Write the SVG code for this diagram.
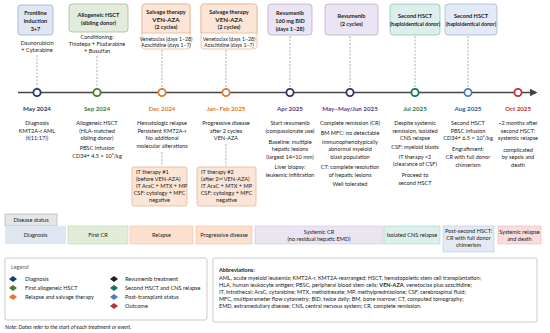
<svg xmlns="http://www.w3.org/2000/svg" width="550" height="333" viewBox="0 0 550 333">
<style>
text{font-family:Lato,"Liberation Sans",sans-serif;fill:#222}
.t{font-size:5.6px;text-anchor:middle}
.s{font-size:5.2px;text-anchor:middle}
.b{font-size:5.6px;font-weight:bold;text-anchor:middle}
.bb{font-size:6.2px;font-weight:bold;text-anchor:middle}
.d{font-size:6.2px;font-weight:bold;text-anchor:middle}
.l{font-size:5.6px}
.a{font-size:5.5px}
.dash{stroke:#9a9a9a;stroke-width:0.8;stroke-dasharray:2 1.5;fill:none}
.node{fill:#fff;stroke-width:1.8}
</style>
<defs>
<marker id="arr" viewBox="0 0 10 10" refX="8" refY="5" markerWidth="6" markerHeight="6" orient="auto"><path d="M0,0 L10,5 L0,10 z" fill="#444"/></marker>
<polygon id="dia" points="0,-3 4,0 0,3 -4,0"/>
</defs>
<rect width="550" height="333" fill="#fff"/>

<g id="connectors">
<line x1="18" y1="92.5" x2="536" y2="92.5" stroke="#444" stroke-width="1.3" marker-end="url(#arr)"/>
<line class="dash" x1="37" y1="55" x2="37" y2="88"/>
<line class="dash" x1="97" y1="56" x2="97" y2="88"/>
<line class="dash" x1="162" y1="50" x2="162" y2="88"/>
<line class="dash" x1="226" y1="50" x2="226" y2="88"/>
<line class="dash" x1="290" y1="36" x2="290" y2="88"/>
<line class="dash" x1="350" y1="36" x2="350" y2="88"/>
<line class="dash" x1="415" y1="36" x2="415" y2="88"/>
<line class="dash" x1="468" y1="36" x2="468" y2="88"/>
<line class="dash" x1="162" y1="152" x2="162" y2="166"/>
<line class="dash" x1="226" y1="144" x2="226" y2="166"/>
</g>

<g id="n-may2024">
<rect x="18" y="5" width="35" height="30" rx="3" fill="#dfe7f3" stroke="#8fa3c8" stroke-width="0.7"/>
<text class="b" x="35.5" y="15">Frontline</text>
<text class="b" x="35.5" y="23">induction</text>
<text class="b" x="35.5" y="30.5">3+7</text>
<text class="t" x="37" y="45">Daunorubicin</text>
<text class="t" x="37" y="51.5">+ Cytarabine</text>
<circle class="node" cx="37" cy="92.5" r="3.6" stroke="#1d3a6e"/>
<text class="d" x="37" y="110.5" style="fill:#1d3a6e">May 2024</text>
<text class="t" x="37" y="125">Diagnosis</text>
<text class="t" x="37" y="132.5">KMT2A-r AML</text>
<text class="t" x="37" y="140">(t(11;17))</text>
</g>

<g id="n-sep2024">
<rect x="69" y="4" width="59" height="28" rx="3" fill="#e3ecdc" stroke="#9ab58a" stroke-width="0.7"/>
<text class="b" x="98.5" y="16.5">Allogeneic HSCT</text>
<text class="b" x="98.5" y="24.5">(sibling donor)</text>
<text class="t" x="97" y="39">Conditioning:</text>
<text class="t" x="97" y="45.5">Thiotepa + Fludarabine</text>
<text class="t" x="97" y="52.5">+ Busulfan</text>
<circle class="node" cx="97" cy="92.5" r="3.6" stroke="#4b7a35"/>
<text class="d" x="97" y="110.5" style="fill:#4b7a35">Sep 2024</text>
<text class="t" x="97" y="125">Allogeneic HSCT</text>
<text class="t" x="97" y="132.5">(HLA-matched</text>
<text class="t" x="97" y="140">sibling donor)</text>
<text class="t" x="97" y="149.5">PBSC infusion</text>
<text class="t" x="97" y="157.5">CD34+ 4.5 × 10⁶/kg</text>
</g>

<g id="n-dec2024">
<rect x="142" y="4" width="48" height="45" rx="3" fill="#fff" stroke="#e8b08a" stroke-width="0.7"/>
<path d="M142,33 V7 a3,3 0 0 1 3,-3 H187 a3,3 0 0 1 3,3 V33 Z" fill="#fbe5d6" stroke="#e8b08a" stroke-width="0.7"/>
<text class="b" x="166" y="13.5">Salvage therapy</text>
<text class="bb" x="166" y="21.5">VEN-AZA</text>
<text class="b" x="166" y="29">(2 cycles)</text>
<text class="s" x="166" y="40.5">Venetoclax (days 1–28)</text>
<text class="s" x="166" y="46.5">Azacitidine (days 1–7)</text>
<circle class="node" cx="162" cy="92.5" r="3.6" stroke="#e07a30"/>
<text class="d" x="162" y="110.5" style="fill:#e07a30">Dec 2024</text>
<text class="t" x="162" y="125">Hematologic relapse</text>
<text class="t" x="162" y="132.5">Persistent KMT2A-r</text>
<text class="t" x="162" y="140">No additional</text>
<text class="t" x="162" y="148">molecular alterations</text>
<rect x="132" y="167" width="55" height="39" rx="2" fill="#fbe5d6" stroke="#e8b08a" stroke-width="0.7"/>
<text class="l" x="136" y="174">IT therapy #1</text>
<text class="l" x="136" y="181">(before VEN-AZA)</text>
<text class="l" x="136" y="188">IT AraC + MTX + MP</text>
<text class="t" x="159.5" y="195">CSF: cytology + MFC</text>
<text class="t" x="159.5" y="202">negative</text>
</g>

<g id="n-jan2025">
<rect x="201" y="4" width="56" height="45" rx="3" fill="#fff" stroke="#e8b08a" stroke-width="0.7"/>
<path d="M201,33 V7 a3,3 0 0 1 3,-3 H254 a3,3 0 0 1 3,3 V33 Z" fill="#fbe5d6" stroke="#e8b08a" stroke-width="0.7"/>
<text class="b" x="229" y="13.5">Salvage therapy</text>
<text class="bb" x="229" y="21.5">VEN-AZA</text>
<text class="b" x="229" y="29">(2 cycles)</text>
<text class="s" x="229" y="40.5">Venetoclax (days 1–28)</text>
<text class="s" x="229" y="46.5">Azacitidine (days 1–7)</text>
<circle class="node" cx="226" cy="92.5" r="3.6" stroke="#e07a30"/>
<text class="d" x="226" y="110.5" style="fill:#e07a30">Jan–Feb 2025</text>
<text class="t" x="226" y="125">Progressive disease</text>
<text class="t" x="226" y="132.5">after 2 cycles</text>
<text class="t" x="226" y="140">VEN-AZA</text>
<rect x="197" y="167" width="59" height="39" rx="2" fill="#fbe5d6" stroke="#e8b08a" stroke-width="0.7"/>
<text class="l" x="201" y="174">IT therapy #2</text>
<text class="l" x="201" y="181">(after 2<tspan dy="-1.5" font-size="3.6">nd</tspan><tspan dy="1.5"> VEN-AZA)</tspan></text>
<text class="l" x="201" y="188">IT AraC + MTX + MP</text>
<text class="t" x="226.5" y="195">CSF: cytology + MFC</text>
<text class="t" x="226.5" y="202">negative</text>
</g>

<g id="n-apr2025">
<rect x="268" y="4" width="44" height="31" rx="3" fill="#ebe5f3" stroke="#b3a3cc" stroke-width="0.7"/>
<text class="b" x="290" y="15">Revumenib</text>
<text class="b" x="290" y="23">160 mg BID</text>
<text class="b" x="290" y="30.5">(days 1–28)</text>
<circle class="node" cx="290" cy="92.5" r="3.6" stroke="#3c2d5c"/>
<text class="d" x="290" y="110.5" style="fill:#5a3a8a">Apr 2025</text>
<text class="t" x="290" y="125">Start revumenib</text>
<text class="t" x="290" y="132.5">(compassionate use)</text>
<text class="t" x="290" y="143.5">Baseline: multiple</text>
<text class="t" x="290" y="151">hepatic lesions</text>
<text class="t" x="290" y="158.5">(largest 14×10 mm)</text>
<text class="t" x="290" y="169">Liver biopsy:</text>
<text class="t" x="290" y="176.5">leukemic infiltration</text>
</g>

<g id="n-may2025">
<rect x="325" y="4" width="53" height="31" rx="3" fill="#ebe5f3" stroke="#b3a3cc" stroke-width="0.7"/>
<text class="b" x="351.5" y="18">Revumenib</text>
<text class="b" x="351.5" y="26">(2 cycles)</text>
<circle class="node" cx="350" cy="92.5" r="3.6" stroke="#3c2d5c"/>
<text class="d" x="350" y="110.5" style="fill:#5a3a8a">May–May/Jun 2025</text>
<text class="t" x="350" y="125">Complete remission (CR)</text>
<text class="t" x="350" y="134.5">BM MFC: no detectable</text>
<text class="t" x="350" y="143.5">immunophenotypically</text>
<text class="t" x="350" y="151">abnormal myeloid</text>
<text class="t" x="350" y="158.5">blast population</text>
<text class="t" x="350" y="169">CT: complete resolution</text>
<text class="t" x="350" y="176.5">of hepatic lesions</text>
<text class="t" x="350" y="186">Well tolerated</text>
</g>

<g id="n-jul2025">
<rect x="390" y="4" width="50" height="31" rx="3" fill="#dcefec" stroke="#8bbdb5" stroke-width="0.7"/>
<text class="b" x="415" y="18">Second HSCT</text>
<text class="b" x="415" y="26" style="font-size:5.2px">(haploidentical donor)</text>
<circle class="node" cx="415" cy="92.5" r="3.6" stroke="#16706a"/>
<text class="d" x="415" y="110.5" style="fill:#2a7a5a">Jul 2025</text>
<text class="t" x="415" y="125">Despite systemic</text>
<text class="t" x="415" y="132.5">remission, isolated</text>
<text class="t" x="415" y="140">CNS relapse</text>
<text class="t" x="415" y="148.5">CSF: myeloid blasts</text>
<text class="t" x="415" y="158.5">IT therapy ×2</text>
<text class="t" x="415" y="166">(clearance of CSF)</text>
<text class="t" x="415" y="176.5">Proceed to</text>
<text class="t" x="415" y="184.5">second HSCT</text>
</g>

<g id="n-aug2025">
<rect x="445" y="4" width="52" height="31" rx="3" fill="#e3eaf5" stroke="#9ab0d0" stroke-width="0.7"/>
<text class="b" x="471" y="18">Second HSCT</text>
<text class="b" x="471" y="26" style="font-size:5.2px">(haploidentical donor)</text>
<circle class="node" cx="468" cy="92.5" r="3.6" stroke="#4f7fbf"/>
<text class="d" x="468" y="110.5" style="fill:#2f5a9a">Aug 2025</text>
<text class="t" x="468" y="125">Second HSCT</text>
<text class="t" x="468" y="132.5">PBSC infusion</text>
<text class="t" x="468" y="140">CD34+ 6.5 × 10⁶/kg</text>
<text class="t" x="468" y="151">Engraftment:</text>
<text class="t" x="468" y="159">CR with full donor</text>
<text class="t" x="468" y="166.5">chimerism</text>
</g>

<g id="n-oct2025">
<circle class="node" cx="518" cy="92.5" r="3.6" stroke="#b8323c"/>
<text class="d" x="518" y="110.5" style="fill:#b8323c">Oct 2025</text>
<text class="t" x="518" y="125">~2 months after</text>
<text class="t" x="518" y="132.5">second HSCT:</text>
<text class="t" x="518" y="140">systemic relapse</text>
<text class="t" x="518" y="151.5">complicated</text>
<text class="t" x="518" y="159">by sepsis and</text>
<text class="t" x="518" y="166.5">death</text>
</g>

<g id="status">
<rect x="5" y="214" width="52" height="12" fill="#e6e6e6" stroke="#a8a8a8" stroke-width="0.6"/>
<text class="t" x="31" y="222">Disease status</text>
<rect x="5" y="226" width="61" height="18" fill="#dfe7f3"/>
<text class="t" x="35.5" y="237">Diagnosis</text>
<rect x="68" y="226" width="60" height="18" fill="#e1ecd9" stroke="#b9d0aa" stroke-width="0.5"/>
<text class="t" x="98" y="237">First CR</text>
<rect x="130" y="226" width="63" height="18" fill="#fbe0cf" stroke="#efb994" stroke-width="0.5"/>
<text class="t" x="161.5" y="237">Relapse</text>
<rect x="196" y="226" width="56" height="18" fill="#fbe0cf" stroke="#efb994" stroke-width="0.5"/>
<text class="t" x="224" y="237">Progressive disease</text>
<rect x="255" y="226" width="128" height="18" fill="#ebe5f3" stroke="#c9bcdc" stroke-width="0.5"/>
<text class="t" x="319" y="233.5">Systemic CR</text>
<text class="t" x="319" y="240.5">(no residual hepatic EMD)</text>
<rect x="384" y="226" width="56" height="18" fill="#dcefec" stroke="#9cc9c1" stroke-width="0.5"/>
<text class="t" x="412" y="237">Isolated CNS relapse</text>
<rect x="443" y="226" width="51" height="26" fill="#e3eaf5" stroke="#a9bedd" stroke-width="0.5"/>
<text class="t" x="468.5" y="233">Post-second HSCT:</text>
<text class="t" x="468.5" y="240">CR with full donor</text>
<text class="t" x="468.5" y="247">chimerism</text>
<rect x="498" y="226" width="43" height="18" fill="#fadcdc" stroke="#eba8a8" stroke-width="0.5"/>
<text class="t" x="519.5" y="233.5">Systemic relapse</text>
<text class="t" x="519.5" y="240.5">and death</text>
</g>

<g id="legend">
<rect x="5" y="258" width="202" height="62" rx="2" fill="#fff" stroke="#b5b5b5" stroke-width="0.7"/>
<text class="l" x="11" y="269" style="fill:#666">Legend</text>
<use href="#dia" x="13" y="279" fill="#1d3a6e"/>
<text class="l" x="25" y="281">Diagnosis</text>
<use href="#dia" x="13" y="288" fill="#4b7a35"/>
<text class="l" x="25" y="290">First allogeneic HSCT</text>
<use href="#dia" x="13" y="297" fill="#e07a30"/>
<text class="l" x="25" y="299">Relapse and salvage therapy</text>
<use href="#dia" x="114" y="279" fill="#222"/>
<text class="l" x="125" y="281">Revumenib treatment</text>
<use href="#dia" x="114" y="288" fill="#16706a"/>
<text class="l" x="125" y="290">Second HSCT and CNS relapse</text>
<use href="#dia" x="114" y="297" fill="#4f7fbf"/>
<text class="l" x="125" y="299">Post-transplant status</text>
<use href="#dia" x="114" y="306" fill="#b8323c"/>
<text class="l" x="125" y="308">Outcome</text>
</g>

<g id="abbreviations">
<rect x="213" y="258" width="324" height="64" rx="2" fill="#fff" stroke="#b5b5b5" stroke-width="0.7"/>
<text class="a" x="219" y="272" font-weight="bold">Abbreviations:</text>
<text class="a" x="219" y="280">AML, acute myeloid leukemia; KMT2A-r, KMT2A-rearranged; HSCT, hematopoietic stem cell transplantation;</text>
<text class="a" x="219" y="287">HLA, human leukocyte antigen; PBSC, peripheral blood stem cells; <tspan font-weight="bold">VEN-AZA</tspan>, venetoclax plus azacitidine;</text>
<text class="a" x="219" y="294">IT, intrathecal; AraC, cytarabine; MTX, methotrexate; MP, methylprednisolone; CSF, cerebrospinal fluid;</text>
<text class="a" x="219" y="301">MFC, multiparameter flow cytometry; BID, twice daily; BM, bone marrow; CT, computed tomography;</text>
<text class="a" x="219" y="308">EMD, extramedullary disease; CNS, central nervous system; CR, complete remission.</text>
</g>

<text x="5" y="329" style="font-size:5.4px;font-style:italic">Note: Dates refer to the start of each treatment or event.</text>
</svg>
